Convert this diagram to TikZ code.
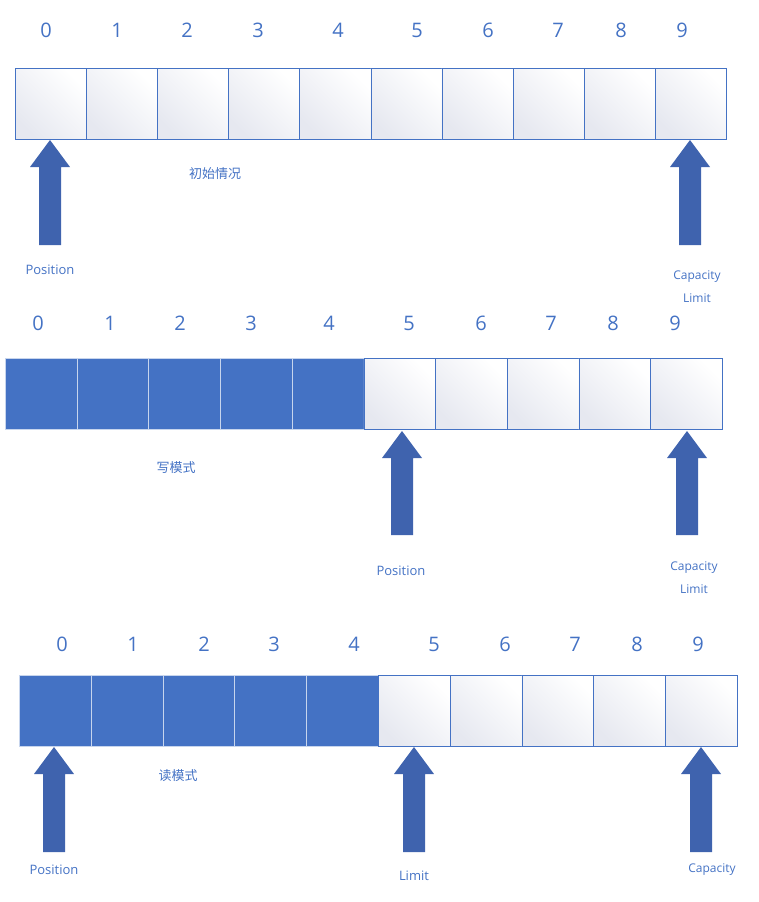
\documentclass[tikz,border=0pt]{standalone}
\usepackage{fontspec}
\setmainfont{Open Sans}
\newfontfamily\cjk{Noto Sans CJK SC}
\definecolor{bl}{HTML}{4472C4}
\definecolor{ar}{HTML}{3F63AE}
\definecolor{gr}{HTML}{E6E8F0}
\begin{document}
\begin{tikzpicture}[x=1pt,y=-1pt,
  cellbox/.style={draw=bl,line width=0.6pt,shading=axis,top color=gr,bottom color=white,shading angle=135,minimum width=#1,minimum height=71,inner sep=0pt,anchor=north west},
  fullbox/.style={draw=white!70!bl,line width=0.6pt,fill=bl,minimum width=#1,minimum height=71,inner sep=0pt,anchor=north west},
  num/.style={text=bl,font=\fontsize{20}{20}\selectfont},
  lab/.style={text=bl,font=\fontsize{13}{15}\selectfont,align=center},
  clab/.style={text=bl,font=\cjk\fontsize{13}{15}\selectfont},
  barrow/.style={fill=ar,draw=none}]
\useasboundingbox (0,0) rectangle (758,902);
\newcommand{\blockarrow}[4]{% name, x, ytop, ybottom
  \path[barrow] (#2-11,#4) -- (#2-11,#3+27) -- (#2-20,#3+27) -- (#2,#3) -- (#2+20,#3+27) -- (#2+11,#3+27) -- (#2+11,#4) -- cycle;
  \coordinate (#1) at (#2,#4);}
% Row 1
\foreach \i/\nx in {0/46,1/117,2/187,3/258,4/338,5/417,6/488,7/558,8/621,9/682}{
  \node[cellbox=71.1] (a\i) at ({15+71.1*\i},68) {};
  \node[num] (an\i) at (\nx,30) {\i};}
\blockarrow{aa}{50}{140}{245}
\blockarrow{ab}{690}{140}{245}
\node[lab] (ap) at (50,270) {Position};
\node[lab,font=\fontsize{12}{23}\selectfont] (ac) at (697,287) {Capacity\\Limit};
\node[clab] (at) at (215,174) {初始情况};
% Row 2
\foreach \i/\nx in {0/38,1/110,2/180,3/251,4/329,5/409,6/481,7/551,8/613,9/675}{
  \node[num] (bn\i) at (\nx,323) {\i};}
\foreach \i in {0,...,4}{\node[fullbox=71.7] (b\i) at ({5+71.7*\i},358) {};}
\foreach \i in {5,...,9}{\node[cellbox=71.7] (b\i) at ({5+71.7*\i},358) {};}
\blockarrow{ba}{402}{431}{535}
\blockarrow{bb}{687}{431}{535}
\node[lab] (bp) at (401,571) {Position};
\node[lab,font=\fontsize{12}{23}\selectfont] (bc) at (694,578) {Capacity\\Limit};
\node[clab] (bt) at (176,468) {写模式};
% Row 3
\foreach \i/\nx in {0/62,1/133,2/204,3/274,4/354,5/434,6/505,7/575,8/637,9/698}{
  \node[num] (cn\i) at (\nx,644) {\i};}
\foreach \i in {0,...,4}{\node[fullbox=71.8] (c\i) at ({19+71.8*\i},675) {};}
\foreach \i in {5,...,9}{\node[cellbox=71.8] (c\i) at ({19+71.8*\i},675) {};}
\blockarrow{ca}{54}{747}{852}
\blockarrow{cb}{414}{747}{852}
\blockarrow{cc}{701}{747}{852}
\node[lab] (cp) at (54,870) {Position};
\node[lab] (cl) at (414,876) {Limit};
\node[lab,font=\fontsize{12}{14}\selectfont] (ccap) at (712,870) {Capacity};
\node[clab] (ct) at (178,776) {读模式};
\end{tikzpicture}
\end{document}
